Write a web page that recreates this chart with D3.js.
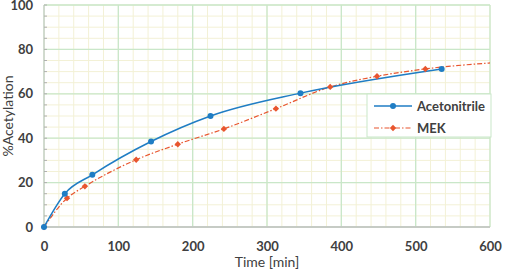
<!DOCTYPE html>
<html>
<head>
<meta charset="utf-8">
<script src="https://cdn.jsdelivr.net/npm/d3@7"></script>
<style>
  html, body { margin: 0; padding: 0; background: #fff; overflow: hidden; }
  svg { display: block; }
  svg text { font-family: Lato, "Open Sans", sans-serif; fill: #404040; }
</style>
</head>
<body>
<div id="chart"></div>
<script>
// Acetonitrile series
const acnTime = [0, 28, 65, 144, 224, 345, 535];
const acnValue = [0, 15, 23.5, 38.5, 50, 60.3, 71.2];

// MEK series (last line point has no marker)
const mekTime = [0, 31, 55, 124, 180, 242, 312, 385, 448, 513];
const mekValue = [0, 13, 18.3, 30.3, 37.3, 44.2, 53.3, 63.1, 67.9, 71.2];
const mekLineEnd = [600, 73.9];

const xTicks = [0, 100, 200, 300, 400, 500, 600];
const yTicks = [0, 20, 40, 60, 80, 100];

const seriesNames = ['Acetonitrile', 'MEK'];
const seriesColors = ['#1f7dc4', '#e8552e'];

const width = 505;
const height = 270;
const margin = { top: 5, right: 15, bottom: 43, left: 44 };
const innerWidth = width - margin.left - margin.right;
const innerHeight = height - margin.top - margin.bottom;

const svg = d3.select('#chart')
    .append('svg')
    .attr('width', width)
    .attr('height', height);

const chart = svg.append('g')
    .attr('transform', `translate(${margin.left}, ${margin.top})`);

const xScale = d3.scaleLinear().domain([0, 600]).range([0, innerWidth]);
const yScale = d3.scaleLinear().domain([0, 100]).range([innerHeight, 0]);

// minor grid
chart.append('g').selectAll('line')
    .data(d3.range(0, 601, 20))
    .enter().append('line')
    .attr('x1', d => xScale(d)).attr('x2', d => xScale(d))
    .attr('y1', 0).attr('y2', innerHeight)
    .attr('stroke', '#f3f1d6').attr('stroke-width', 1);
chart.append('g').selectAll('line')
    .data(d3.range(0, 101, 5))
    .enter().append('line')
    .attr('x1', 0).attr('x2', innerWidth)
    .attr('y1', d => yScale(d)).attr('y2', d => yScale(d))
    .attr('stroke', '#f3f1d6').attr('stroke-width', 1);

// major grid
chart.append('g').selectAll('line')
    .data(xTicks)
    .enter().append('line')
    .attr('x1', d => xScale(d)).attr('x2', d => xScale(d))
    .attr('y1', 0).attr('y2', innerHeight)
    .attr('stroke', '#c9e7c9').attr('stroke-width', 1.3);
chart.append('g').selectAll('line')
    .data(yTicks)
    .enter().append('line')
    .attr('x1', 0).attr('x2', innerWidth)
    .attr('y1', d => yScale(d)).attr('y2', d => yScale(d))
    .attr('stroke', '#c9e7c9').attr('stroke-width', 1.3);

// axes lines with minor ticks
chart.append('line')
    .attr('x1', 0).attr('x2', 0).attr('y1', 0).attr('y2', innerHeight)
    .attr('stroke', '#c8c8c8');
chart.append('g').selectAll('line')
    .data(d3.range(0, 101, 5))
    .enter().append('line')
    .attr('x1', 0).attr('x2', 3)
    .attr('y1', d => yScale(d)).attr('y2', d => yScale(d))
    .attr('stroke', '#b0b0b0');
chart.append('line')
    .attr('x1', 0).attr('x2', innerWidth).attr('y1', innerHeight).attr('y2', innerHeight)
    .attr('stroke', '#c0c0c0').attr('stroke-width', 1.3);

// tick labels
const xAxis = d3.axisBottom(xScale).tickValues(xTicks).tickSize(0).tickPadding(15);
chart.append('g')
    .attr('transform', `translate(0, ${innerHeight})`)
    .call(xAxis)
    .call(g => g.select('.domain').remove())
    .selectAll('text')
    .style('font-size', '13px').style('font-weight', 'bold').attr('fill', '#404040');

const yAxis = d3.axisLeft(yScale).tickValues(yTicks).tickSize(0).tickPadding(11);
chart.append('g')
    .call(yAxis)
    .call(g => g.select('.domain').remove())
    .selectAll('text')
    .style('font-size', '13px').style('font-weight', 'bold').attr('fill', '#404040');

// axis titles
chart.append('text')
    .attr('x', innerWidth / 2)
    .attr('y', innerHeight + 40)
    .style('text-anchor', 'middle')
    .style('font-size', '14px')
    .text('Time [min]');

chart.append('text')
    .attr('transform', 'rotate(-90)')
    .attr('x', -innerHeight / 2)
    .attr('y', -margin.left + 13)
    .style('text-anchor', 'middle')
    .style('font-size', '14px')
    .text('%Acetylation');

// series
const acn = acnTime.map((t, i) => ({ x: t, y: acnValue[i] }));
const mek = mekTime.map((t, i) => ({ x: t, y: mekValue[i] }));
const mekLine = mek.concat([{ x: mekLineEnd[0], y: mekLineEnd[1] }]);

const line = d3.line()
    .x(d => xScale(d.x))
    .y(d => yScale(d.y))
    .curve(d3.curveMonotoneX);

chart.append('path')
    .datum(mekLine)
    .attr('d', line)
    .attr('fill', 'none')
    .attr('stroke', seriesColors[1])
    .attr('stroke-width', 1.2)
    .attr('stroke-dasharray', '5,2,1.5,2');

chart.append('path')
    .datum(acn)
    .attr('d', line)
    .attr('fill', 'none')
    .attr('stroke', seriesColors[0])
    .attr('stroke-width', 1.5);

const diamond = d3.symbol().type(d3.symbolDiamond2).size(26);

chart.selectAll('.mek-pt')
    .data(mek)
    .enter().append('path')
    .attr('class', 'mek-pt')
    .attr('transform', d => `translate(${xScale(d.x)}, ${yScale(d.y)})`)
    .attr('d', diamond)
    .attr('fill', seriesColors[1]);

chart.selectAll('.acn-pt')
    .data(acn)
    .enter().append('circle')
    .attr('class', 'acn-pt')
    .attr('cx', d => xScale(d.x))
    .attr('cy', d => yScale(d.y))
    .attr('r', 3)
    .attr('fill', seriesColors[0]);

// legend
const legend = svg.append('g').attr('transform', 'translate(367, 94)');
legend.append('rect')
    .attr('width', 124).attr('height', 43)
    .attr('fill', '#fff')
    .attr('stroke', '#c9e7c9');

seriesNames.forEach((name, i) => {
    const ly = 12 + i * 22;
    legend.append('line')
        .attr('x1', 7).attr('x2', 45).attr('y1', ly).attr('y2', ly)
        .attr('stroke', seriesColors[i])
        .attr('stroke-width', i === 0 ? 1.5 : 1.2)
        .attr('stroke-dasharray', i === 0 ? null : '5,2,1.5,2');
    if (i === 0) {
        legend.append('circle').attr('cx', 26).attr('cy', ly).attr('r', 3).attr('fill', seriesColors[i]);
    } else {
        legend.append('path').attr('transform', `translate(26, ${ly})`).attr('d', diamond).attr('fill', seriesColors[i]);
    }
    legend.append('text')
        .attr('x', 50).attr('y', ly + 4.5)
        .style('font-size', '13px').style('font-weight', 'bold')
        .text(name);
});
</script>
</body>
</html>
